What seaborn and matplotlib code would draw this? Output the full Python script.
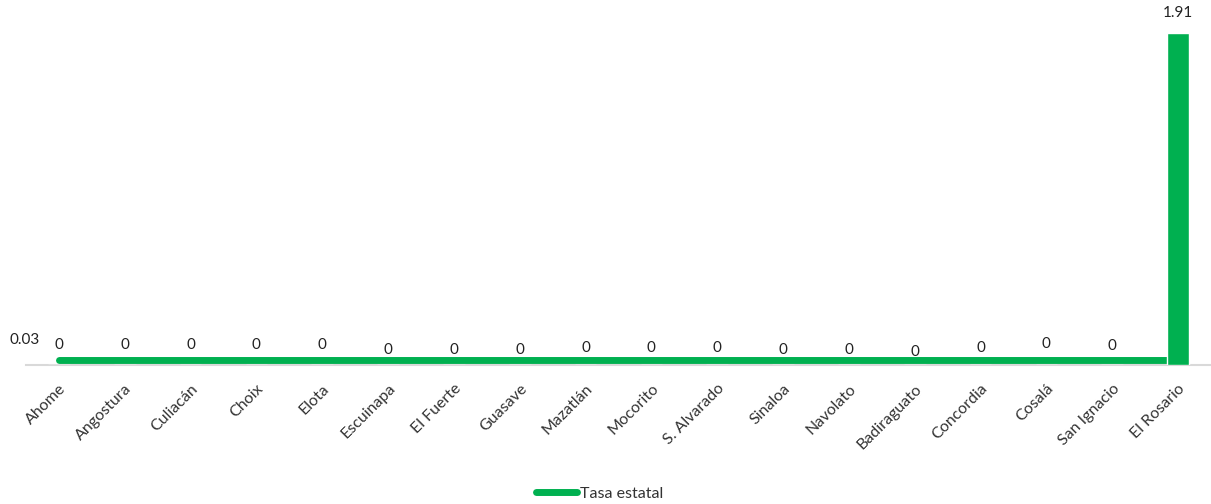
import numpy as np
import matplotlib
matplotlib.use("Agg")
import matplotlib.pyplot as plt
import seaborn as sns

categories = ["Ahome", "Angostura", "Culiacán", "Choix", "Elota", "Escuinapa",
              "El Fuerte", "Guasave", "Mazatlán", "Mocorito", "S. Alvarado",
              "Sinaloa", "Navolato", "Badiraguato", "Concordia", "Cosalá",
              "San Ignacio", "El Rosario"]
values = [0, 0, 0, 0, 0, 0, 0, 0, 0, 0, 0, 0, 0, 0, 0, 0, 0, 1.91]
tasa_estatal = [0.03] * len(categories)
value_labels = ["0"] * 17 + ["1.91"]

# small per-label vertical nudges (pixels) to mimic the reference label layout
label_nudge_px = [0, 0, 0, 0, 0, -5, -5, -5, -3, -3, -3, -5, -5, -7, -3, 1, -1, 0]

sns.set_theme(style="white")
plt.rcParams["font.family"] = ["Lato", "DejaVu Sans"]

GREEN = "#00B050"
fig = plt.figure(figsize=(12.11, 5.04), dpi=100)
ax = fig.add_axes([26 / 1211, 1 - 365 / 504, 1 - 26 / 1211, 365 / 504])

x = np.arange(len(categories))
sns.lineplot(x=x, y=tasa_estatal, ax=ax, color=GREEN, linewidth=5,
             solid_capstyle="round", label="Tasa estatal", zorder=2)
sns.barplot(x=x, y=values, ax=ax, color=GREEN, width=0.33, saturation=1,
            zorder=3, legend=False)

ax.set_xlim(-0.5, len(categories) - 0.5)
ax.set_ylim(0, 2.1)
ax.set_yticks([])
ax.set_ylabel("")
ax.set_xticks(x)
ax.set_xticklabels(categories, rotation=45, ha="right", rotation_mode="anchor",
                   fontsize=11.5, color="#333333")
ax.tick_params(axis="x", length=0, pad=12)
for s in ["top", "left", "right"]:
    ax.spines[s].set_visible(False)
ax.spines["bottom"].set_color("#D9D9D9")
ax.spines["bottom"].set_linewidth(1.5)

pt = 72 / 100
for i, (v, lab) in enumerate(zip(values, value_labels)):
    ax.annotate(lab, (i, v), xytext=(0, 13 * pt + label_nudge_px[i] * pt),
                textcoords="offset points", ha="center", va="bottom",
                fontsize=11, color="#222222")

ax.annotate(f"{tasa_estatal[0]:.2f}", (-0.52, tasa_estatal[0]),
            xytext=(0, 13 * pt), textcoords="offset points",
            ha="center", va="bottom", fontsize=11, color="#222222",
            annotation_clip=False)

leg = ax.legend(loc="center", bbox_to_anchor=(0.484, -0.352), frameon=False,
                fontsize=11.5, handlelength=2.6, handletextpad=0.2)
for t in leg.get_texts():
    t.set_color("#333333")

fig.savefig("out.png", dpi=100)
